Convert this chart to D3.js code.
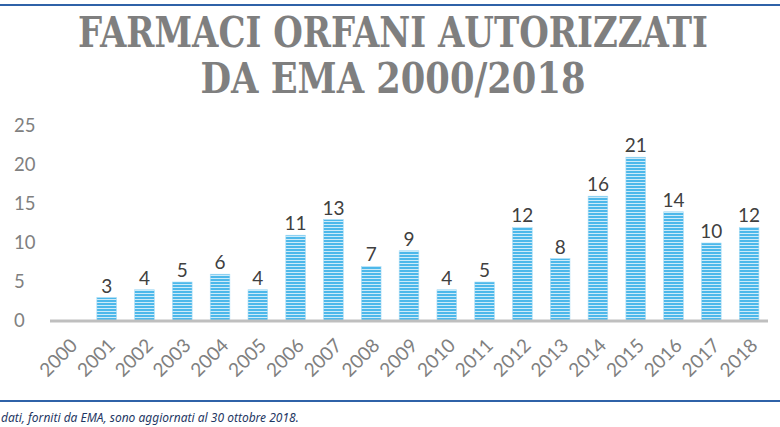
<!DOCTYPE html>
<html>
<head>
<meta charset="utf-8">
<script src="https://cdn.jsdelivr.net/npm/d3@7"></script>
<style>
  body { margin: 0; background: #fff; }
  svg { display: block; }
</style>
</head>
<body>
<div id="chart"></div>
<script>
const YEARS = ["2000", "2001", "2002", "2003", "2004", "2005", "2006", "2007", "2008", "2009",
  "2010", "2011", "2012", "2013", "2014", "2015", "2016", "2017", "2018"];
const APPROVED = [0, 3, 4, 5, 6, 4, 11, 13, 7, 9, 4, 5, 12, 8, 16, 21, 14, 10, 12];
const Y_TICKS = [0, 5, 10, 15, 20, 25];
const TITLE_LINES = ["FARMACI ORFANI AUTORIZZATI", "DA EMA 2000/2018"];
const FOOTNOTE = "dati, forniti da EMA, sono aggiornati al 30 ottobre 2018.";

const W = 780, H = 427;
const plot = { left: 50, right: 768, top: 126, bottom: 321 };

const svg = d3.select("#chart").append("svg")
  .attr("width", W)
  .attr("height", H);

// striped fill for the bars
const defs = svg.append("defs");
const pat = defs.append("pattern")
  .attr("id", "stripes")
  .attr("patternUnits", "userSpaceOnUse")
  .attr("width", 6)
  .attr("height", 3);
pat.append("rect").attr("width", 6).attr("height", 3).attr("fill", "#cdebf9");
pat.append("rect").attr("width", 6).attr("height", 2).attr("fill", "#4db8ea");

// frame lines
svg.append("line")
  .attr("x1", 0).attr("x2", W).attr("y1", 5).attr("y2", 5)
  .attr("stroke", "#2f62a8").attr("stroke-width", 2);
svg.append("line")
  .attr("x1", 0).attr("x2", W).attr("y1", 401).attr("y2", 401)
  .attr("stroke", "#2f62a8").attr("stroke-width", 2);

// title
const titleWidths = [630, 385];
svg.selectAll("text.title")
  .data(TITLE_LINES)
  .enter().append("text")
  .attr("class", "title")
  .attr("x", 393)
  .attr("y", (d, i) => 47 + i * 46)
  .attr("text-anchor", "middle")
  .attr("textLength", (d, i) => titleWidths[i])
  .attr("lengthAdjust", "spacingAndGlyphs")
  .style("font-family", "'DejaVu Serif Condensed', 'DejaVu Serif', serif")
  .style("font-weight", "bold")
  .style("font-size", "42px")
  .style("fill", "#7f7f7f")
  .text(d => d);

// scales
const x = d3.scaleBand()
  .domain(YEARS)
  .range([plot.left, plot.right])
  .paddingInner(0.48)
  .paddingOuter(0.24);

const y = d3.scaleLinear()
  .domain([0, 25])
  .range([plot.bottom, plot.top]);

// y labels (left aligned, no axis line)
svg.selectAll("text.ytick")
  .data(Y_TICKS)
  .enter().append("text")
  .attr("class", "ytick")
  .attr("x", 14)
  .attr("y", d => y(d))
  .attr("dy", "0.35em")
  .style("font-family", "Lato, 'Open Sans', sans-serif")
  .style("font-size", "18.5px")
  .style("fill", "#808080")
  .text(d => d);

// bars
svg.selectAll("rect.bar")
  .data(APPROVED)
  .enter().append("rect")
  .attr("class", "bar")
  .attr("x", (d, i) => x(YEARS[i]))
  .attr("y", d => y(d))
  .attr("width", x.bandwidth())
  .attr("height", d => y(0) - y(d))
  .attr("fill", "url(#stripes)")
  .attr("stroke", "#a9dcf5")
  .attr("stroke-width", 0.6);

// value labels above the bars (skip zero)
svg.selectAll("text.value")
  .data(APPROVED.map((v, i) => ({ year: YEARS[i], v })).filter(d => d.v > 0))
  .enter().append("text")
  .attr("class", "value")
  .attr("x", d => x(d.year) + x.bandwidth() / 2)
  .attr("y", d => y(d.v) - 5)
  .attr("text-anchor", "middle")
  .style("font-family", "Lato, 'Open Sans', sans-serif")
  .style("font-size", "19px")
  .style("fill", "#404040")
  .text(d => d.v);

// x axis
const xAxis = svg.append("g")
  .attr("transform", `translate(0,${plot.bottom})`)
  .call(d3.axisBottom(x).tickSize(0).tickPadding(0));

xAxis.select(".domain")
  .attr("d", `M${plot.left},0H${plot.right}`)
  .attr("stroke", "#bfbfbf")
  .attr("stroke-width", 3);

xAxis.selectAll(".tick text")
  .attr("transform", "translate(5,21) rotate(-45)")
  .attr("text-anchor", "end")
  .attr("dy", "0.35em")
  .attr("y", 0)
  .style("font-family", "Lato, 'Open Sans', sans-serif")
  .style("font-size", "19px")
  .style("fill", "#808080");

// footnote
svg.append("text")
  .attr("x", 1)
  .attr("y", 422)
  .style("font-family", "'Noto Sans', 'Open Sans', sans-serif")
  .style("font-style", "italic")
  .style("font-size", "12px")
  .style("fill", "#1f3864")
  .text(FOOTNOTE);
</script>
</body>
</html>
